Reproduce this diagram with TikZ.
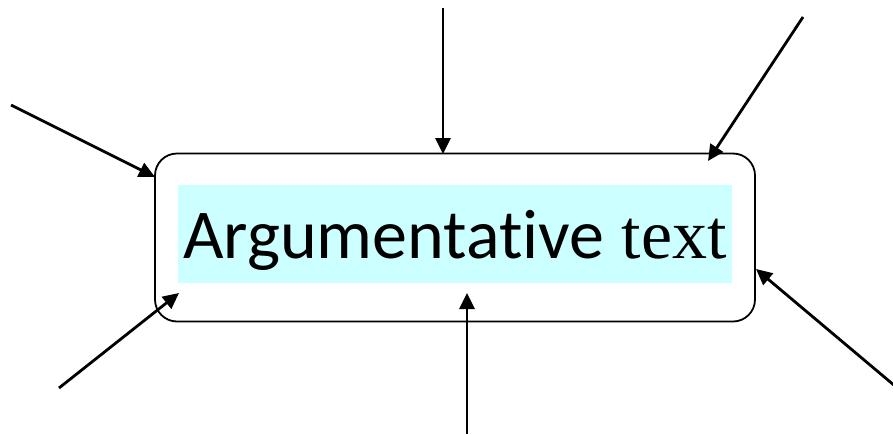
\documentclass[tikz,border=0pt]{standalone}
\usepackage{fontspec}
\setmainfont{Liberation Serif}
\newfontfamily\calib[Ligatures=NoCommon]{Carlito}
\usetikzlibrary{arrows.meta}
\definecolor{hilite}{HTML}{CCFFFF}
\begin{document}
\begin{tikzpicture}[x=1pt,y=-1pt,
  frame/.style={draw=black,line width=1.8pt,rounded corners=22pt,minimum width=600pt,minimum height=168pt,inner sep=0pt},
  hl/.style={fill=hilite,minimum width=554pt,minimum height=98pt,inner sep=0pt},
  arr/.style={draw=black,line width=2.8pt,-{Triangle[length=16pt,width=15pt]}}]
\useasboundingbox (0,0) rectangle (893,434);
\node[frame] (box) at (455,237.5) {};
\node[hl] (txt) at (455,234) {};
\node[anchor=base] (lbl) at (455,258) {\fontsize{70}{84}\selectfont{\calib Argumentative} text};
\coordinate (s1) at (11,105);  \coordinate (t1) at (155,177);
\coordinate (s2) at (443,8);   \coordinate (t2) at (443,154);
\coordinate (s3) at (803,17);  \coordinate (t3) at (708,161);
\coordinate (s4) at (59,388);  \coordinate (t4) at (179,293);
\coordinate (s5) at (467,434); \coordinate (t5) at (467,293);
\coordinate (s6) at (895,386); \coordinate (t6) at (756,269);
\draw[arr] (s1) -- (t1);
\draw[arr] (s2) -- (t2);
\draw[arr] (s3) -- (t3);
\draw[arr] (s4) -- (t4);
\draw[arr] (s5) -- (t5);
\draw[arr] (s6) -- (t6);
\end{tikzpicture}
\end{document}
